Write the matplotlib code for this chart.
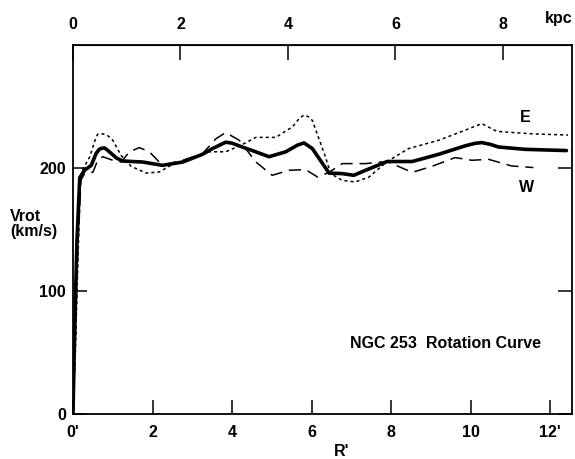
import numpy as np
import matplotlib
matplotlib.use("Agg")
import matplotlib.pyplot as plt

plt.rcParams['font.family'] = ['Liberation Sans', 'DejaVu Sans']
plt.rcParams['font.weight'] = 'bold'

#------------------------------------------------------data (R in arcmin, V in km/s)
r_mean = [0, 0.03, 0.065, 0.1, 0.17, 0.29, 0.46, 0.58, 0.66, 0.73, 0.8, 0.88, 1.09, 1.25, 1.75,
          2.25, 2.76, 3.26, 3.5, 3.68, 3.84, 4.0, 4.18, 4.51, 4.93, 5.35, 5.65, 5.81, 6.02, 6.44,
          6.77, 7.06, 7.36, 7.9, 8.53, 9.2, 9.86, 10.1, 10.28, 10.5, 10.7, 11.37, 12.41]
v_mean = [0, 50, 98, 141, 192, 198, 202, 211.6, 215, 216, 216, 214, 208, 205.5, 204.7,
          202, 204.7, 211, 215.5, 218.3, 220.8, 220, 217.8, 214, 209, 213, 218.5, 220.2, 215.6, 195.7,
          195.3, 193.9, 198, 205.1, 205.1, 211, 217.8, 219.8, 220.5, 219, 216.9, 215, 214]

r_east = [0, 0.06, 0.1, 0.14, 0.19, 0.25, 0.42, 0.55, 0.62, 0.75, 0.88, 1.0, 1.21, 1.46, 1.84,
          2.17, 2.51, 3.0, 3.34, 3.84, 4.22, 4.6, 5.1, 5.52, 5.7, 5.81, 5.92, 6.02, 6.35,
          6.48, 6.77, 7.1, 7.44, 7.9, 8.44, 9.2, 9.86, 10.28, 10.66, 11.53, 12.45]
v_east = [0, 50, 98, 141, 192, 199, 208.8, 222, 227.3, 227.6, 226, 222.4, 210, 201.2, 195.7,
          196.6, 202.9, 207.5, 213, 213, 218.3, 224.7, 224.7, 233.3, 240.5, 242.8, 241.5, 238.4, 208.8,
          195.3, 189.8, 188.5, 192.4, 205.1, 215.6, 222.4, 230.5, 235.9, 229.6, 227.6, 226.6]

r_west = [0, 0.05, 0.09, 0.13, 0.2, 0.29, 0.5, 0.62, 0.75, 1.0, 1.21, 1.42, 1.67,
          1.92, 2.25, 2.76, 3.26, 3.6, 3.84, 4.18, 4.6, 5.01, 5.43, 5.85, 6.15,
          6.44, 6.77, 7.36, 7.9, 8.53, 9.03, 9.61, 10.03, 10.45, 11.03, 11.58]
v_west = [0, 50, 98, 141, 190, 195.3, 196.3, 206.1, 209, 206.1, 204.7, 213, 216.4,
          213, 202, 206.1, 211.6, 223.7, 228.6, 222.4, 204.7, 193.9, 198, 198.5, 192.5,
          196.3, 203.4, 203.4, 205.1, 196.3, 201.2, 208.3, 206.1, 206.9, 201.5, 200.2]

#------------------------------------------------------axis ticks
x_ticks = [0, 2, 4, 6, 8, 10, 12]
x_labels = ["0'", "2", "4", "6", "8", "10", "12'"]
y_ticks = [0, 100, 200]
kpc_ticks = [0, 2, 4, 6, 8]
kpc_per_arcmin = 0.74

W, H = 575, 459
fig = plt.figure(figsize=(W / 100, H / 100), dpi=100)
ax = fig.add_axes([73 / W, 1 - 414 / H, (572 - 73) / W, (414 - 44.7) / H])

ax.plot(r_east, v_east, color='black', lw=1.1, linestyle=(0, (2, 2)))
ax.plot(r_west, v_west, color='black', lw=1.1, linestyle=(0, (8, 4.5)))
ax.plot(r_mean, v_mean, color='black', lw=2.6, solid_joinstyle='round',
        solid_capstyle='round')

ax.set_xlim(0, 12.55)
ax.set_ylim(0, 300)
ax.set_xticks(x_ticks)
ax.set_xticklabels(x_labels)
ax.set_yticks(y_ticks)
ax.tick_params(direction='in', length=10, width=1.1, labelsize=11.5, pad=8,
               right=True)
ax.tick_params(axis='y', pad=5)
for s in ax.spines.values():
    s.set_linewidth(1.3)

#top axis in kpc
sec = ax.secondary_xaxis('top', functions=(lambda x: x * kpc_per_arcmin,
                                           lambda k: k / kpc_per_arcmin))
sec.set_xticks(kpc_ticks)
sec.tick_params(direction='in', length=11, width=1.1, labelsize=11.5, pad=9)

#------------------------------------------------------labels
fig.text(559 / W, 1 - 18 / H, "kpc", fontsize=11.5, ha='center', va='center')
fig.text(342 / W, 1 - 452 / H, "R'", fontsize=11.5, ha='center', va='center')
fig.text(10 / W, 1 - 224 / H, "Vrot\n(km/s)", fontsize=11.5, ha='left', va='center',
         linespacing=0.95)
fig.text(525 / W, 1 - 118 / H, "E", fontsize=11.5, ha='center', va='center')
fig.text(527 / W, 1 - 187 / H, "W", fontsize=11.5, ha='center', va='center')
fig.text(445 / W, 1 - 343 / H, "NGC 253  Rotation Curve", fontsize=11.5,
         ha='center', va='center')

fig.savefig("out.png", dpi=100)
